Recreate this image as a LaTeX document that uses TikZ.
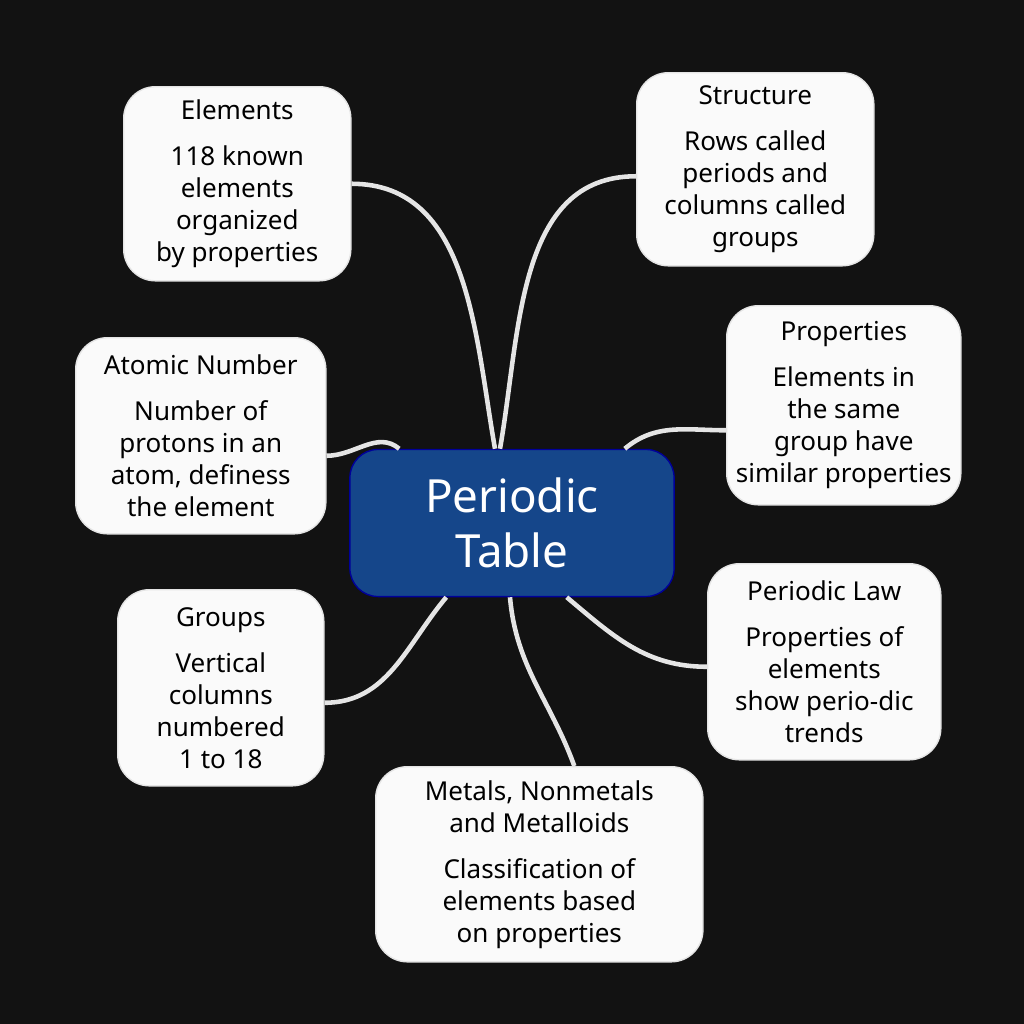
\documentclass[tikz,border=0pt]{standalone}
\usepackage{fontspec}
\setmainfont{Noto Sans}
\usetikzlibrary{positioning}

\begin{document}
\begin{tikzpicture}[x=0.01cm,y=-0.01cm]
			\tikzstyle{topic}=[draw=white!80!gray,fill=white!96!gray,rounded corners=9pt,align=center,
			font=\fontsize{7.4pt}{9.1pt}\selectfont,inner sep=0pt,anchor=north west]
			\tikzstyle{hub}=[draw=blue!60!black,fill={rgb,255:red,21;green,70;blue,138},rounded corners=8pt,
			text=white,align=center,font=\fontsize{13pt}{15.6pt}\selectfont\bfseries,minimum width=3.24cm,minimum height=1.47cm]
			\tikzstyle{link}=[draw=white!80!gray,line width=1.3pt]
			
			% Background
			\fill[black!93] (0,0) rectangle (1024,1024);
			
			% Centre node
			\node[hub] (pt) at (512,523) {Periodic\\Table};
			
			% Topic boxes
			\node[topic,minimum width=2.27cm,minimum height=1.94cm] (elem) at (123,86)
			{\textbf{Elements}\\[4pt]118 known\\elements\\organized\\by properties};
			\node[topic,minimum width=2.37cm,minimum height=1.93cm] (struct) at (636,72)
			{\textbf{Structure}\\[4pt]Rows called\\periods and\\columns called\\groups};
			\node[topic,minimum width=2.50cm,minimum height=1.96cm] (atomic) at (75,337)
			{\textbf{Atomic Number}\\[4pt]Number of\\protons in an\\atom, definess\\the element};
			\node[topic,minimum width=2.34cm,minimum height=1.99cm] (prop) at (726,305)
			{\textbf{Properties}\\[4pt]Elements in\\the same\\group have\\similar properties};
			\node[topic,minimum width=2.06cm,minimum height=1.96cm] (groups) at (117,589)
			{\textbf{Groups}\\[4pt]Vertical\\columns\\numbered\\1 to 18};
			\node[topic,minimum width=2.33cm,minimum height=1.96cm] (law) at (707,563)
			{\textbf{Periodic Law}\\[4pt]Properties of\\elements\\show perio-dic\\trends};
			\node[topic,minimum width=3.27cm,minimum height=1.95cm] (metal) at (375,766)
			{\textbf{Metals, Nonmetals}\\\textbf{and Metalloids}\\[4pt]Classification of\\elements based\\on properties};
			
			% Connect the topics with the centre
			\path[link] (elem.east) to[out=0,in=100] ([xshift=-0.17cm]pt.north);
			\path[link] ([yshift=-0.07cm]struct.west) to[out=180,in=80] ([xshift=-0.12cm]pt.north);
			\path[link] ([yshift=-0.2cm]atomic.east) to[out=0,in=140] ([xshift=0.5cm]pt.north west);
			\path[link] ([yshift=-0.25cm]prop.west) to[out=180,in=40] ([xshift=-0.5cm]pt.north east);
			\path[link] ([yshift=-0.15cm]groups.east) to[out=0,in=-130] ([xshift=0.97cm]pt.south west);
			\path[link] ([yshift=-0.05cm]law.west) to[out=180,in=-40] ([xshift=-1.08cm]pt.south east);
			\path[link] ([xshift=0.35cm]metal.north) to[out=110,in=-85] ([xshift=-0.02cm]pt.south);
		\end{tikzpicture}
\end{document}
